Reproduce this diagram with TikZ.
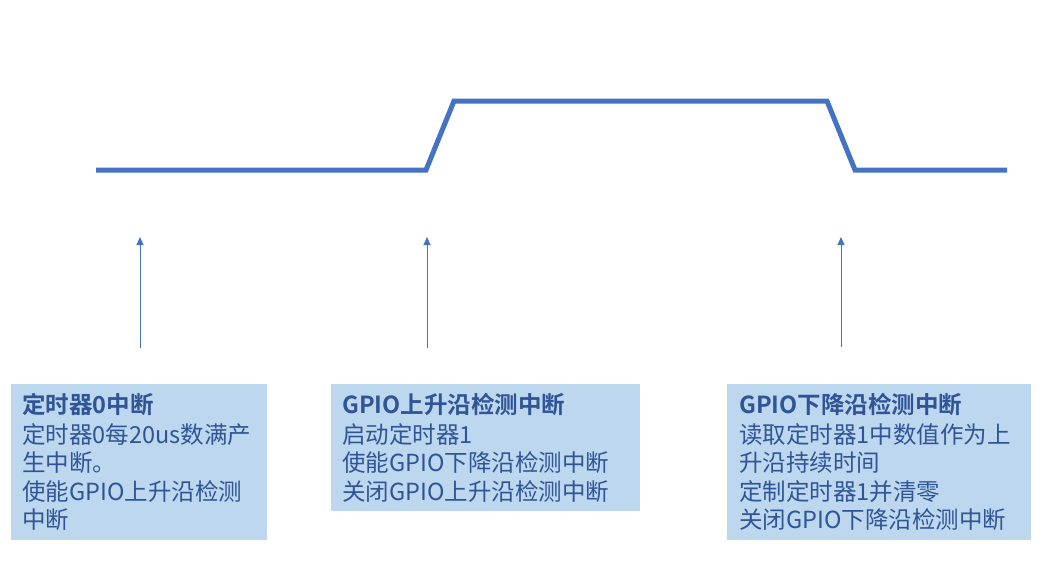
\documentclass[tikz,border=0pt]{standalone}
\usepackage{fontspec}
\setmainfont{Noto Sans CJK SC}[BoldFont={Noto Sans CJK SC Bold}]
\usetikzlibrary{arrows.meta}
\definecolor{wave}{HTML}{4472C4}
\definecolor{boxfill}{HTML}{BDD7EE}
\definecolor{txt}{HTML}{2F5597}
\begin{document}
\begin{tikzpicture}[x=1pt,y=-1pt,
  note/.style={fill=boxfill,draw=none,inner sep=0pt},
  label/.style={anchor=north west,inner sep=0pt,align=left,text=txt,font=\fontsize{23.5}{28.5}\selectfont},
  up/.style={draw=wave,line width=1pt,-{Triangle[width=7pt,length=8pt]}}]
\useasboundingbox (0,0) rectangle (1043,587);
% waveform
\coordinate (w0) at (96,170);
\coordinate (w1) at (426,170);
\coordinate (w2) at (454,101);
\coordinate (w3) at (827,101);
\coordinate (w4) at (855,170);
\coordinate (w5) at (1007,170);
\draw[wave,line width=5pt,line join=miter] (w0) -- (w1) -- (w2) -- (w3) -- (w4) -- (w5);
% arrows
\coordinate (a1s) at (140,348); \coordinate (a1e) at (140,237);
\coordinate (a2s) at (427,348); \coordinate (a2e) at (427,237);
\coordinate (a3s) at (841,347); \coordinate (a3e) at (841,237);
\draw[up] (a1s) -- (a1e);
\draw[up] (a2s) -- (a2e);
\draw[up] (a3s) -- (a3e);
% boxes
\path[note] (11,384) rectangle (267,540);
\path[note] (331,384) rectangle (640,511);
\path[note] (727,384) rectangle (1031,540);
\node[label] (t1) at (22,393) {\textbf{定时器0中断}\\[1.5pt]定时器0每20us数满产\\生中断。\\使能GPIO上升沿检测\\中断};
\node[label] (t2) at (342,393) {\textbf{GPIO上升沿检测中断}\\[1.5pt]启动定时器1\\使能GPIO下降沿检测中断\\关闭GPIO上升沿检测中断};
\node[label] (t3) at (739,393) {\textbf{GPIO下降沿检测中断}\\[1.5pt]读取定时器1中数值作为上\\升沿持续时间\\定制定时器1并清零\\关闭GPIO下降沿检测中断};
\end{tikzpicture}
\end{document}
